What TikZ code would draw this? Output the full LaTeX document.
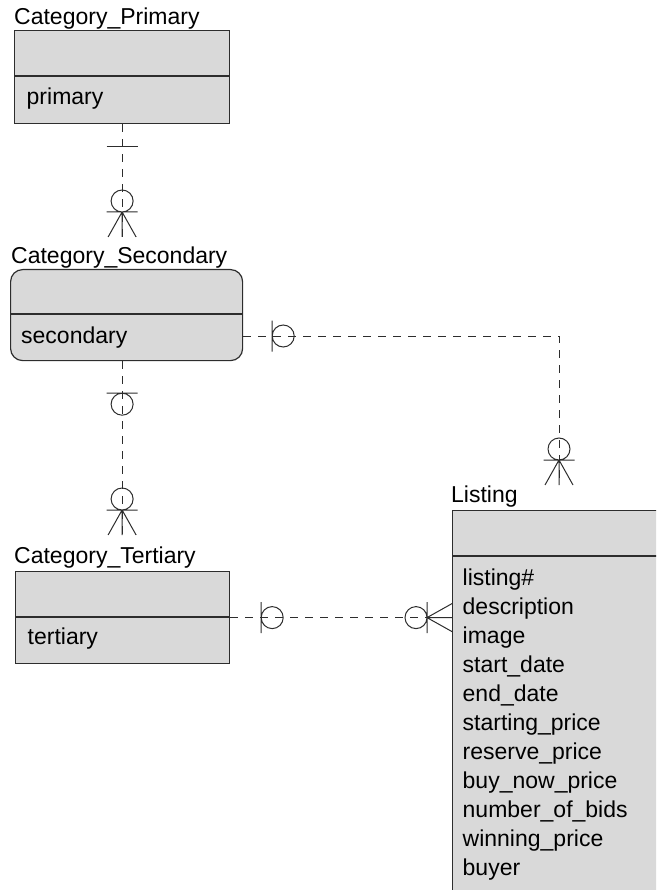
\documentclass[tikz,border=0pt]{standalone}
\usepackage{fontspec}
\setmainfont{Liberation Sans}
\usetikzlibrary{positioning,calc}
\definecolor{boxgray}{RGB}{217,217,217}
\definecolor{edgegray}{RGB}{45,45,45}

\tikzset{
  entity/.style={draw=edgegray, fill=boxgray, line width=1.2pt, anchor=north west, inner sep=0pt},
  divider/.style={draw=edgegray, line width=1.2pt},
  etitle/.style={anchor=base west, inner sep=0pt, font=\fontsize{23}{29}\selectfont},
  attr/.style={anchor=base west, inner sep=0pt, font=\fontsize{23}{29}\selectfont},
  rel/.style={draw=edgegray, line width=1pt, dash pattern=on 8pt off 7pt},
  cardline/.style={draw=edgegray, line width=1pt},
  onebar/.pic={\draw[cardline] (0,-15.5) -- (0,15.5);},
  oneopt/.pic={\draw[cardline] (0,-15.5) -- (0,15.5) (11,0) circle (11pt);},
  manyopt/.pic={\draw[cardline] (0,-15.5) -- (0,15.5) (-11,0) circle (11pt)
    (0,0) -- (25,-14) (0,0) -- (25,0) (0,0) -- (25,14);},
}

\begin{document}
\begin{tikzpicture}[x=1pt, y=-1pt]
  \useasboundingbox (0,0) rectangle (656,890);
  \clip (0,0) rectangle (656,890);

  % entities
  \node[entity, minimum width=215pt, minimum height=93pt] (prim) at (14,30) {};
  \draw[divider] ([yshift=-46pt]prim.north west) -- ([yshift=-46pt]prim.north east);
  \node[etitle] (prim-title) at (14,25) {Category\_Primary};
  \node[attr] (prim-key) at (26.5,105) {primary};

  \node[entity, rounded corners=12pt, minimum width=232pt, minimum height=91pt] (sec) at (10,269) {};
  \draw[divider] ([yshift=-45pt]sec.north west) -- ([yshift=-45pt]sec.north east);
  \node[etitle] (sec-title) at (11,263) {Category\_Secondary};
  \node[attr] (sec-key) at (21,343) {secondary};

  \node[entity, minimum width=214pt, minimum height=92pt] (ter) at (15,571) {};
  \draw[divider] ([yshift=-46pt]ter.north west) -- ([yshift=-46pt]ter.north east);
  \node[etitle] (ter-title) at (14,563) {Category\_Tertiary};
  \node[attr] (ter-key) at (27.5,644) {tertiary};

  \node[entity, minimum width=260pt, minimum height=420pt] (lst) at (452,510) {};
  \draw[divider] ([yshift=-46pt]lst.north west) -- ([yshift=-46pt]lst.north east);
  \node[etitle] (lst-title) at (451,502) {Listing};
  \foreach \name [count=\i from 0] in {listing\#, description, image, start\_date,
      end\_date, starting\_price, reserve\_price, buy\_now\_price,
      number\_of\_bids, winning\_price, buyer}
    \node[attr] (lst-\i) at (462.5,585+29*\i) {\name};

  % relationships
  \coordinate (sec-in) at ([yshift=32pt]sec.north -| prim.south);
  \coordinate (ter-in) at ([yshift=36pt]ter.north -| prim.south);
  \coordinate (bend) at (559,336);
  \coordinate (lst-in) at ([yshift=25pt]lst.north -| bend);

  \draw[rel] (prim.south) -- (sec-in);
  \pic[rotate=90] at ([yshift=-22pt]prim.south) {onebar};
  \pic[rotate=-90] at ([yshift=25pt]sec-in) {manyopt};

  \draw[rel] (sec.south -| prim.south) -- (ter-in);
  \pic[rotate=-90] at ([yshift=-32pt]sec.south -| prim.south) {oneopt};
  \pic[rotate=-90] at ([yshift=25pt]ter-in) {manyopt};

  \draw[rel] (sec.east |- bend) -- (bend) -- (lst-in);
  \pic at ([xshift=29pt]sec.east |- bend) {oneopt};
  \pic[rotate=-90] at ([yshift=25pt]lst-in) {manyopt};

  \draw[rel] (ter.east) -- (lst.west |- ter.east);
  \pic at ([xshift=31pt]ter.east) {oneopt};
  \pic at ([xshift=-25pt]lst.west |- ter.east) {manyopt};
\end{tikzpicture}
\end{document}
